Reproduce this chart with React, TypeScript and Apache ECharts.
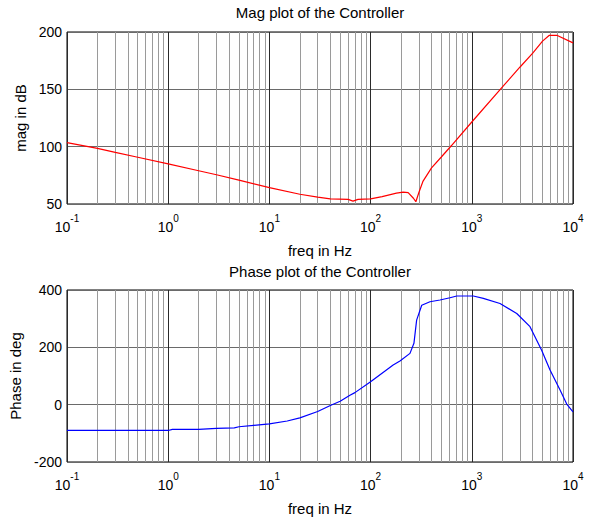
import React, { useEffect, useRef } from "react";
import * as echarts from "echarts";

const MAG_FREQ = [0.1, 0.2, 0.3, 0.5, 1, 2, 3, 5, 10, 20, 30, 40, 60, 67, 75, 100, 130, 180, 210, 235, 265, 280, 300, 330, 400, 500, 630, 1000, 2000, 3000, 4000, 5000, 5800, 7000, 10000];
const MAG_DB = [103.5, 98.5, 95, 90.8, 85, 79, 75.5, 70.8, 64.3, 58.5, 56, 54.5, 54, 52.5, 54, 54.5, 56.5, 59.5, 60.3, 60, 55, 52, 60, 70, 81.5, 91, 101, 121.5, 152, 169.5, 181.5, 192, 197, 197, 190.5];

const PHASE_FREQ = [0.1, 1.0, 1.1, 2, 3, 4.5, 5, 7, 10, 15, 20, 30, 40, 50, 62.5, 70, 100, 167, 195, 245, 268, 285, 320, 386, 485, 609, 710, 1035, 1300, 1900, 2780, 3760, 4900, 5930, 7450, 8670, 10000];
const PHASE_DEG = [-90, -90, -86, -86, -83, -81, -77, -72, -67, -57, -46, -24, -3, 12, 33, 42, 80, 138, 152, 179, 214, 295, 347, 359, 365, 373, 379, 379, 371, 353, 318, 272, 190, 121, 51, 2, -25];

const DECADE_STARTS = [0.1, 1, 10, 100, 1000];
const MINOR_MULTIPLIERS = [2, 3, 4, 5, 6, 7, 8, 9];

const MAG_Y_TICKS = { min: 50, max: 200, interval: 50 };
const PHASE_Y_TICKS = { min: -200, max: 400, interval: 200 };

const FONT = "Liberation Sans, Arial, sans-serif";

export default function App() {
  const ref = useRef<HTMLDivElement>(null);
  useEffect(() => {
    if (!ref.current) return;
    const chart = echarts.init(ref.current, undefined, { renderer: "svg" });
    const minorFreqs: number[] = [];
    DECADE_STARTS.forEach((d) => MINOR_MULTIPLIERS.forEach((m) => minorFreqs.push(+(d * m).toPrecision(6))));

    const xAxisBase = (gridIndex: number) => ({
      type: "log",
      logBase: 10,
      gridIndex,
      min: 0.1,
      max: 10000,
      splitNumber: 5,
      name: "freq in Hz",
      nameLocation: "middle",
      nameGap: 39,
      nameTextStyle: { fontSize: 15, color: "#000", fontFamily: FONT },
      axisLine: { show: false },
      axisTick: { show: false },
      splitLine: { show: true, lineStyle: { color: "#2a2a2a", width: 1 } },
      axisLabel: {
        margin: 16,
        color: "#000",
        fontFamily: FONT,
        formatter: (v: number) => {
          const e = Math.round(Math.log10(v));
          return `{b|10}{s|${e}}`;
        },
        rich: {
          b: { fontSize: 14, lineHeight: 14, fontFamily: FONT, color: "#000" },
          s: { fontSize: 10, lineHeight: 10, fontFamily: FONT, color: "#000", padding: [0, 0, 18, 0] },
        },
      },
    });

    const yAxisBase = (gridIndex: number, t: { min: number; max: number; interval: number }, name: string, gap: number) => ({
      type: "value",
      gridIndex,
      min: t.min,
      max: t.max,
      interval: t.interval,
      name,
      nameLocation: "middle",
      nameGap: gap,
      nameTextStyle: { fontSize: 15, color: "#000", fontFamily: FONT },
      axisLine: { show: false },
      axisTick: { show: false },
      splitLine: { show: true, lineStyle: { color: "#6a6a6a", width: 1 } },
      axisLabel: { margin: 5, fontSize: 14, color: "#000", fontFamily: FONT },
    });

    const minorSeries = (idx: number) => ({
      type: "line",
      xAxisIndex: idx,
      yAxisIndex: idx,
      data: [],
      silent: true,
      z: 1,
      markLine: {
        silent: true,
        symbol: ["none", "none"],
        label: { show: false },
        lineStyle: { color: "#9a9a9a", width: 1, type: "solid" },
        data: minorFreqs.map((f) => ({ xAxis: f })),
        animation: false,
      },
    });

    chart.setOption({
      animation: false,
      textStyle: { fontFamily: FONT },
      title: [
        {
          text: "Mag plot of the Controller",
          left: 320,
          textAlign: "center",
          top: 5,
          padding: 0,
          textStyle: { fontSize: 15, fontWeight: "normal", color: "#000", fontFamily: FONT },
        },
        {
          text: "Phase plot of the Controller",
          left: 320,
          textAlign: "center",
          top: 264,
          padding: 0,
          textStyle: { fontSize: 15, fontWeight: "normal", color: "#000", fontFamily: FONT },
        },
      ],
      grid: [
        { left: 67, top: 32, width: 506, height: 172, show: true, borderColor: "#000", borderWidth: 1, backgroundColor: "#fff" },
        { left: 67, top: 290, width: 506, height: 173, show: true, borderColor: "#000", borderWidth: 1, backgroundColor: "#fff" },
      ],
      xAxis: [xAxisBase(0), xAxisBase(1)],
      yAxis: [yAxisBase(0, MAG_Y_TICKS, "mag in dB", 37), yAxisBase(1, PHASE_Y_TICKS, "Phase in deg", 40)],
      series: [
        minorSeries(0),
        minorSeries(1),
        {
          type: "line",
          xAxisIndex: 0,
          yAxisIndex: 0,
          z: 5,
          showSymbol: false,
          symbol: "none",
          lineStyle: { color: "#ff0000", width: 1.2 },
          data: MAG_FREQ.map((f, i) => [f, MAG_DB[i]]),
        },
        {
          type: "line",
          xAxisIndex: 1,
          yAxisIndex: 1,
          z: 5,
          showSymbol: false,
          symbol: "none",
          lineStyle: { color: "#0000ff", width: 1.2 },
          data: PHASE_FREQ.map((f, i) => [f, PHASE_DEG[i]]),
        },
      ],
    });
    return () => chart.dispose();
  }, []);
  return <div ref={ref} style={{ position: "fixed", left: 0, top: 0, width: 592, height: 517, background: "#fff" }} />;
}
